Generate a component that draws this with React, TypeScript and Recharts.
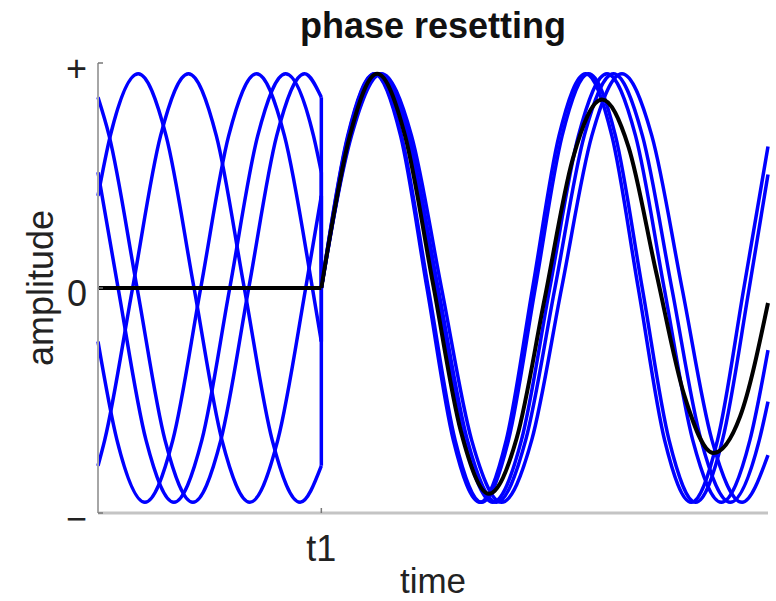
import { Line, LineChart, XAxis, YAxis } from 'recharts'

const FONT = '"Liberation Sans", Arial, Helvetica, sans-serif'
const BLUE = '#0000ff'

// time axis in cycles, stimulus at t1 = 1
const xTicks = [1]
const xTickLabels = ['t1']
const yTicks = [-1.05, 0, 1.05]
const yTickLabels = ['−', '0', '+']

// single trials before t1 (random phase), [time, amplitude]
const preA = [[0, 0.43], [0.055, 0.71], [0.18, 1], [0.305, 0.71], [0.43, 0], [0.555, -0.71], [0.68, -1], [0.805, -0.71], [0.93, 0], [1, 0.43]]
const preB = [[0, -0.83], [0.03, -0.71], [0.155, 0], [0.28, 0.71], [0.405, 1], [0.53, 0.71], [0.655, 0], [0.78, -0.71], [0.905, -1], [1, -0.83]]
const preC = [[0, -0.25], [0.085, -0.71], [0.21, -1], [0.335, -0.71], [0.46, 0], [0.585, 0.71], [0.71, 1], [0.835, 0.71], [0.96, 0], [1, -0.25]]
const preD = [[0, 0.54], [0.09, 0], [0.215, -0.71], [0.34, -1], [0.465, -0.71], [0.59, 0], [0.715, 0.71], [0.84, 1], [0.965, 0.71], [1, 0.54]]
const preE = [[0, 0.89], [0.05, 0.71], [0.175, 0], [0.3, -0.71], [0.425, -1], [0.55, -0.71], [0.675, 0], [0.8, 0.71], [0.925, 1], [1, 0.89]]

// single trials after t1 (phase reset, slightly different speeds)
const postA = [[1, 0], [1.118, 0.71], [1.237, 1], [1.355, 0.71], [1.473, 0], [1.591, -0.71], [1.71, -1], [1.828, -0.71], [1.946, 0], [2.064, 0.71], [2.183, 1], [2.301, 0.71], [2.419, 0], [2.537, -0.71], [2.656, -1], [2.774, -0.71], [2.892, 0], [3, 0.66]]
const postB = [[1, 0], [1.12, 0.71], [1.239, 1], [1.359, 0.71], [1.479, 0], [1.599, -0.71], [1.718, -1], [1.838, -0.71], [1.958, 0], [2.078, 0.71], [2.197, 1], [2.317, 0.71], [2.437, 0], [2.557, -0.71], [2.676, -1], [2.796, -0.71], [2.916, 0], [3, 0.53]]
const postC = [[1, 0], [1.128, 0.71], [1.256, 1], [1.384, 0.71], [1.512, 0], [1.64, -0.71], [1.768, -1], [1.896, -0.71], [2.023, 0], [2.151, 0.71], [2.279, 1], [2.407, 0.71], [2.535, 0], [2.663, -0.71], [2.791, -1], [2.919, -0.71], [3, -0.29]]
const postD = [[1, 0], [1.131, 0.71], [1.262, 1], [1.392, 0.71], [1.523, 0], [1.654, -0.71], [1.785, -1], [1.915, -0.71], [2.046, 0], [2.177, 0.71], [2.308, 1], [2.438, 0.71], [2.569, 0], [2.7, -0.71], [2.831, -1], [2.961, -0.71], [3, -0.53]]
const postE = [[1, 0], [1.135, 0.71], [1.269, 1], [1.404, 0.71], [1.538, 0], [1.673, -0.71], [1.807, -1], [1.942, -0.71], [2.076, 0], [2.211, 0.71], [2.346, 1], [2.48, 0.71], [2.615, 0], [2.749, -0.71], [2.884, -1], [3, -0.78]]

// average over trials
const avgPre = [[0, 0], [1, 0]]
const avgPost = [[1, 0], [1.125, 0.7], [1.25, 1], [1.375, 0.71], [1.5, 0.02], [1.625, -0.67], [1.75, -0.96], [1.875, -0.7], [2, -0.05], [2.125, 0.6], [2.257, 0.88], [2.375, 0.66], [2.5, 0.07], [2.625, -0.5], [2.755, -0.77], [2.875, -0.6], [3, -0.07]]

const trials = [
  { pre: preA, post: postA },
  { pre: preB, post: postB },
  { pre: preC, post: postC },
  { pre: preD, post: postD },
  { pre: preE, post: postE },
]

const pts = (arr: number[][]) => arr.map(([t, v]) => ({ t, v }))

function YTick(props: any) {
  const { x, y, payload } = props
  const i = yTicks.indexOf(payload.value)
  return (
    <g>
      <line x1={x} x2={x + 5} y1={y} y2={y} stroke="#777" strokeWidth={1.5} />
      <text x={x - 11} y={y + 18} textAnchor="end" fontSize={36} fontFamily={FONT} fill="#222">
        {yTickLabels[i]}
      </text>
    </g>
  )
}

function XTick(props: any) {
  const { x, y, payload } = props
  const i = xTicks.indexOf(payload.value)
  return (
    <g>
      <line x1={x} x2={x} y1={y} y2={y - 5} stroke="#777" strokeWidth={1.5} />
      <text x={x} y={y + 48} textAnchor="middle" fontSize={36} fontFamily={FONT} fill="#222">
        {xTickLabels[i]}
      </text>
    </g>
  )
}

export default function App() {
  return (
    <div style={{ position: 'absolute', left: 0, top: 0, width: 776, height: 601, background: '#fff' }}>
      <LineChart width={776} height={601} margin={{ top: 63, right: 8, bottom: 0, left: 0 }}>
        <XAxis
          dataKey="t"
          type="number"
          domain={[0, 3]}
          ticks={xTicks}
          height={88}
          tickSize={0}
          tickMargin={0}
          tickLine={false}
          tick={<XTick />}
          axisLine={{ stroke: '#c4c4c4', strokeWidth: 3 }}
        />
        <YAxis
          type="number"
          domain={[-1.05, 1.05]}
          ticks={yTicks}
          width={98}
          tickSize={0}
          tickMargin={0}
          tickLine={false}
          tick={<YTick />}
          axisLine={{ stroke: '#a6a6a6', strokeWidth: 2 }}
        />
        {trials.map((tr, i) => (
          <Line key={`pre${i}`} data={pts(tr.pre)} dataKey="v" type="monotone" stroke={BLUE} strokeWidth={3.5} dot={false} isAnimationActive={false} />
        ))}
        {trials.map((tr, i) => (
          <Line
            key={`jump${i}`}
            data={pts([tr.pre[tr.pre.length - 1], tr.post[0]])}
            dataKey="v"
            type="linear"
            stroke={BLUE}
            strokeWidth={3.5}
            dot={false}
            isAnimationActive={false}
          />
        ))}
        {trials.map((tr, i) => (
          <Line key={`post${i}`} data={pts(tr.post)} dataKey="v" type="monotone" stroke={BLUE} strokeWidth={3.5} dot={false} isAnimationActive={false} />
        ))}
        <Line data={pts(avgPre)} dataKey="v" type="linear" stroke="#000" strokeWidth={4} dot={false} isAnimationActive={false} />
        <Line data={pts(avgPost)} dataKey="v" type="monotone" stroke="#000" strokeWidth={4} dot={false} isAnimationActive={false} />
      </LineChart>
      <svg width={776} height={601} style={{ position: 'absolute', left: 0, top: 0, pointerEvents: 'none' }}>
        <text x={433} y={38} textAnchor="middle" fontSize={36} fontWeight="bold" fontFamily={FONT} fill="#111">
          phase resetting
        </text>
        <text x={433} y={593} textAnchor="middle" fontSize={35} fontFamily={FONT} fill="#222">
          time
        </text>
        <text x={53} y={288} transform="rotate(-90 53 288)" textAnchor="middle" fontSize={36} fontFamily={FONT} fill="#222">
          amplitude
        </text>
      </svg>
    </div>
  )
}
